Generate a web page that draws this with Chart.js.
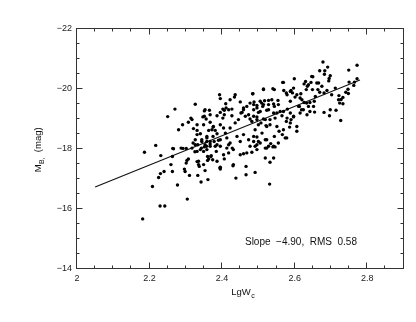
<!DOCTYPE html>
<html>
<head>
<meta charset="utf-8">
<script src="https://cdn.jsdelivr.net/npm/chart.js@4/dist/chart.umd.min.js"></script>
<style>
  body { margin: 0; background: #fff; }
</style>
</head>
<body>
<canvas id="tf" width="416" height="322"></canvas>
<script>
// galaxies: log line width vs absolute B magnitude
const lgW = [
  2.186,2.217,2.231,2.208,2.225,2.230,2.240,2.259,2.263,2.263,2.266,2.277,2.229,2.242,2.181,2.304,
  2.287,2.301,2.296,2.303,2.307,2.310,2.298,2.331,2.335,2.337,2.333,2.342,2.353,2.361,2.360,2.369,
  2.374,2.394,2.406,2.325,2.326,2.343,2.357,2.367,2.358,2.384,2.386,2.395,2.413,2.418,
  2.531,2.491,2.466,2.466,2.438,2.430,2.395,
  2.599,2.650,2.678,2.669,2.691,2.682,2.698,2.695,2.749,2.772,2.772,
  2.750,2.765,2.763,2.747,2.741,2.728,2.733,
  2.694,2.748,2.733,2.722,2.721,2.724,2.712,2.702,2.714,2.698,2.696,2.681,2.727,2.689,2.681,2.675,
  2.666,2.664,2.669,2.645,2.630,2.626,2.635,2.649,2.657,2.654,2.642,2.638,2.652,2.642,2.655,2.569,
  2.570,2.577,2.590,2.594,2.601,2.588,2.617,2.620,2.626,2.613,2.619,2.615,2.634,2.597,2.590,2.577,
  2.606,2.586,2.569,2.557,2.566,2.578,2.544,2.523,2.534,2.546,2.514,2.544,2.485,2.554,2.537,2.517,
  2.505,2.488,2.496,2.512,2.528,2.544,2.555,2.487,2.505,2.523,2.542,2.560,2.565,2.496,2.514,2.532,
  2.482,2.500,2.521,2.551,2.491,2.510,2.496,2.487,2.505,2.519,2.491,
  2.250,2.270,2.280,2.291,2.264,2.292,2.301,2.326,2.307,2.314,2.321,2.331,2.326,2.340,2.320,2.333,
  2.344,2.349,2.351,2.351,2.356,2.365,2.363,2.372,2.375,2.358,2.375,2.386,2.378,2.390,2.351,2.367,
  2.393,2.395,2.422,2.436,2.434,2.410,2.402,2.418,2.395,2.406,2.427,2.427,2.450,2.459,2.455,2.468,
  2.477,2.487,2.484,2.496,2.514,2.528,2.597,2.588,2.579,2.606,2.615,2.638,2.632,2.647,2.661,2.683,
  2.514,2.540,2.567,2.406,2.411,2.402,2.386,2.367,2.353,2.347,2.317,2.331,2.367,2.376,2.381,2.395,
  2.404,2.409,2.422,2.436,2.445,2.452,2.459,2.464,2.473,2.477,2.487,2.496,2.500,2.509,2.542,2.528,
  2.507,2.519,2.523,2.532,2.546,2.551,2.569,2.580,2.588,2.579,2.588,2.597,2.606,2.611,2.624,2.633,
  2.331,2.344,2.358,2.353,2.367,2.381,2.317,2.331,2.358,2.395,2.413,2.422,2.441,2.450,2.431,2.459,
  2.473,2.487,2.500,2.477,2.496,2.519,2.528,2.574,2.555,2.540,2.404,2.418,2.450,2.459,2.468,2.482,
  2.335,2.349,2.363,2.386,2.395,2.431,2.532,2.519,2.542,
  2.340,2.496,2.523,2.542,2.428,2.370,2.349,2.360
]
const magB = [
  -17.89,-18.12,-17.78,-16.75,-17.05,-17.18,-17.25,-17.48,-17.25,-17.75,-18.01,-16.80,-16.10,-16.10,-15.67,-16.33,
  -18.03,-17.53,-17.33,-17.62,-17.67,-17.12,-17.25,-17.58,-17.48,-17.42,-17.12,-16.90,-17.28,-16.98,-17.75,-17.75,
  -17.64,-17.37,-17.67,-17.91,-18.14,-18.03,-18.09,-18.17,-18.25,-17.92,-18.14,-18.09,-18.03,-18.14,
  -16.83,-17.22,-17.14,-17.42,-17.03,-17.44,-17.39,
  -20.34,-20.41,-20.90,-20.61,-20.73,-20.49,-20.44,-20.35,-20.63,-20.79,-20.34,
  -20.23,-20.23,-20.12,-19.99,-19.89,-19.65,-19.51,
  -20.27,-19.85,-19.72,-19.78,-19.64,-19.53,-20.03,-19.81,-19.29,-19.31,-19.11,-19.22,-18.95,-19.95,-19.87,-20.09,
  -20.20,-19.98,-19.89,-20.22,-20.25,-20.17,-20.09,-19.98,-19.75,-19.59,-19.55,-19.42,-19.42,-19.25,-19.23,-20.22,
  -19.95,-19.87,-19.95,-19.87,-19.73,-19.59,-19.84,-19.64,-19.55,-19.42,-19.31,-19.20,-19.14,-19.07,-18.98,-18.92,
  -18.75,-18.73,-18.64,-18.59,-18.48,-18.37,-18.42,-18.31,-18.18,-18.07,-19.98,-19.98,-19.84,-19.62,-19.64,-19.61,
  -19.59,-19.57,-19.45,-19.42,-19.48,-19.42,-19.48,-19.31,-19.25,-19.29,-19.20,-19.25,-19.11,-19.07,-19.00,-18.98,
  -18.92,-18.81,-18.78,-18.75,-18.64,-18.53,-18.40,-18.25,-18.20,-18.03,-18.09,
  -19.08,-19.33,-18.64,-18.81,-18.02,-18.02,-18.02,-19.49,-18.89,-19.03,-18.68,-18.62,-18.31,-18.51,-18.20,-18.14,
  -18.25,-18.81,-19.27,-19.09,-19.00,-19.29,-18.62,-18.64,-18.73,-18.42,-18.42,-18.51,-18.25,-18.29,-18.07,-18.09,
  -19.81,-19.68,-19.64,-19.81,-19.73,-19.51,-19.33,-19.31,-19.22,-19.14,-19.33,-19.11,-19.57,-19.37,-19.22,-19.42,
  -19.53,-19.48,-19.84,-19.37,-19.48,-19.62,-20.03,-19.92,-19.81,-19.81,-19.70,-20.14,-19.98,-20.42,-20.20,-20.61,
  -20.00,-20.01,-20.22,-19.29,-19.37,-19.03,-19.11,-19.14,-19.31,-19.07,-18.98,-18.81,-18.89,-18.75,-18.62,-18.81,
  -18.70,-18.53,-18.70,-18.87,-18.98,-19.20,-19.31,-19.09,-19.14,-19.00,-19.09,-18.98,-19.22,-19.53,-19.50,-19.31,
  -18.87,-18.98,-18.75,-18.81,-19.03,-19.20,-19.25,-19.33,-19.20,-19.03,-18.87,-19.09,-18.59,-19.42,-19.31,-19.53,
  -18.48,-18.31,-18.37,-18.14,-18.25,-18.09,-18.03,-17.92,-17.98,-18.31,-18.37,-18.20,-18.42,-18.25,-17.98,-18.48,
  -18.31,-18.42,-18.25,-18.09,-17.98,-18.31,-18.09,-18.37,-18.20,-18.07,-17.81,-17.87,-17.81,-17.84,-17.87,-17.89,
  -17.59,-17.48,-17.67,-17.59,-17.33,-17.48,-17.56,-17.70,-17.70,
  -17.98,-18.14,-18.03,-18.09,-18.03,-17.78,-17.92,-17.62
]
// fitted relation, slope -4.90
const fitX = [2.05, 2.78]
const fitY = [-16.73, -20.30]

const xTicks = [2, 2.2, 2.4, 2.6, 2.8]
const yTicks = [-22, -20, -18, -16, -14]
const noteText = "Slope  \u22124.90,  RMS  0.58"

const points = lgW.map((v, i) => ({ x: v, y: magB[i] }))
const fitLine = fitX.map((v, i) => ({ x: v, y: fitY[i] }))

const tickFont = { family: "'Liberation Sans', Arial, sans-serif", size: 9 }

// frame with inward ticks on all four sides, axis titles and the note
const framePlugin = {
  id: "frame",
  afterDraw(chart) {
    const ctx = chart.ctx
    const a = chart.chartArea
    const xs = chart.scales.x
    const ys = chart.scales.y
    const L = Math.round(a.left) - 0.5, R = Math.round(a.right) - 0.5
    const T = Math.round(a.top) - 0.5, B = Math.round(a.bottom) - 0.5
    ctx.save()
    ctx.strokeStyle = "#333"
    ctx.lineWidth = 1
    ctx.strokeRect(L, T, R - L, B - T)
    ctx.beginPath()
    for (let i = 0; i <= 18; i++) {
      const px = Math.round(xs.getPixelForValue(2 + i * 0.05)) - 0.5
      const len = i % 4 === 0 ? 6 : 3
      ctx.moveTo(px, B); ctx.lineTo(px, B - len)
      ctx.moveTo(px, T); ctx.lineTo(px, T + len)
    }
    for (let i = 0; i <= 16; i++) {
      const py = Math.round(ys.getPixelForValue(-22 + i * 0.5)) - 0.5
      const len = i % 4 === 0 ? 6 : 3
      ctx.moveTo(L, py); ctx.lineTo(L + len, py)
      ctx.moveTo(R, py); ctx.lineTo(R - len, py)
    }
    ctx.stroke()

    ctx.fillStyle = "#111"
    ctx.textBaseline = "alphabetic"
    // x title: LgW_c
    ctx.font = "9.5px 'Liberation Sans', Arial, sans-serif"
    const w1 = ctx.measureText("LgW").width
    ctx.font = "7px 'Liberation Sans', Arial, sans-serif"
    const w2 = ctx.measureText("c").width
    let sx = (a.left + a.right) / 2 + 0.5 - (w1 + w2) / 2 + 2
    ctx.font = "9.5px 'Liberation Sans', Arial, sans-serif"
    ctx.textAlign = "left"
    ctx.fillText("LgW", sx, 295)
    ctx.font = "7px 'Liberation Sans', Arial, sans-serif"
    ctx.fillText("c", sx + w1 + 0.5, 298)

    // y title: M_B, (mag)
    ctx.translate(41, 150)
    ctx.rotate(-Math.PI / 2)
    ctx.font = "9.5px 'Liberation Sans', Arial, sans-serif"
    const m = ctx.measureText("M").width
    const rest = ctx.measureText("  (mag)").width
    ctx.font = "7px 'Liberation Sans', Arial, sans-serif"
    const b = ctx.measureText("B,").width
    let ty = -(m + b + rest) / 2
    ctx.font = "9.5px 'Liberation Sans', Arial, sans-serif"
    ctx.fillText("M", ty, 0)
    ctx.font = "7px 'Liberation Sans', Arial, sans-serif"
    ctx.fillText("B,", ty + m + 0.3, 3)
    ctx.font = "9.5px 'Liberation Sans', Arial, sans-serif"
    ctx.fillText("  (mag)", ty + m + b + 0.3, 0)
    ctx.restore()

    // note in the lower right
    ctx.save()
    ctx.fillStyle = "#111"
    ctx.font = "10px 'Liberation Sans', Arial, sans-serif"
    ctx.textBaseline = "middle"
    ctx.fillText(noteText, xs.getPixelForValue(2.463), ys.getPixelForValue(-14.88))
    ctx.restore()
  }
}

new Chart(document.getElementById("tf"), {
  data: {
    datasets: [
      {
        type: "scatter",
        data: points,
        pointRadius: 1.7,
        pointBorderWidth: 0,
        backgroundColor: "#000",
        borderColor: "#000"
      },
      {
        type: "line",
        data: fitLine,
        borderColor: "#111",
        borderWidth: 1.1,
        pointRadius: 0,
        fill: false
      }
    ]
  },
  options: {
    responsive: false,
    animation: false,
    layout: { padding: { top: 29, right: 12.5, left: 0, bottom: 0 } },
    plugins: { legend: { display: false }, tooltip: { enabled: false } },
    scales: {
      x: {
        type: "linear",
        min: 2,
        max: 2.9,
        grid: { display: false, drawTicks: false },
        border: { display: false },
        afterBuildTicks: s => { s.ticks = xTicks.map(v => ({ value: v })) },
        afterFit: s => { s.height = 53 },
        ticks: {
          padding: 4,
          color: "#222",
          font: tickFont,
          maxRotation: 0,
          callback: v => String(v)
        }
      },
      y: {
        type: "linear",
        reverse: true,
        min: -22,
        max: -14,
        grid: { display: false, drawTicks: false },
        border: { display: false },
        afterBuildTicks: s => { s.ticks = yTicks.map(v => ({ value: v })) },
        afterFit: s => { s.width = 77 },
        ticks: {
          padding: 5,
          color: "#222",
          font: tickFont,
          callback: v => "\u2212" + Math.abs(v)
        }
      }
    }
  },
  plugins: [framePlugin]
})
</script>
</body>
</html>
